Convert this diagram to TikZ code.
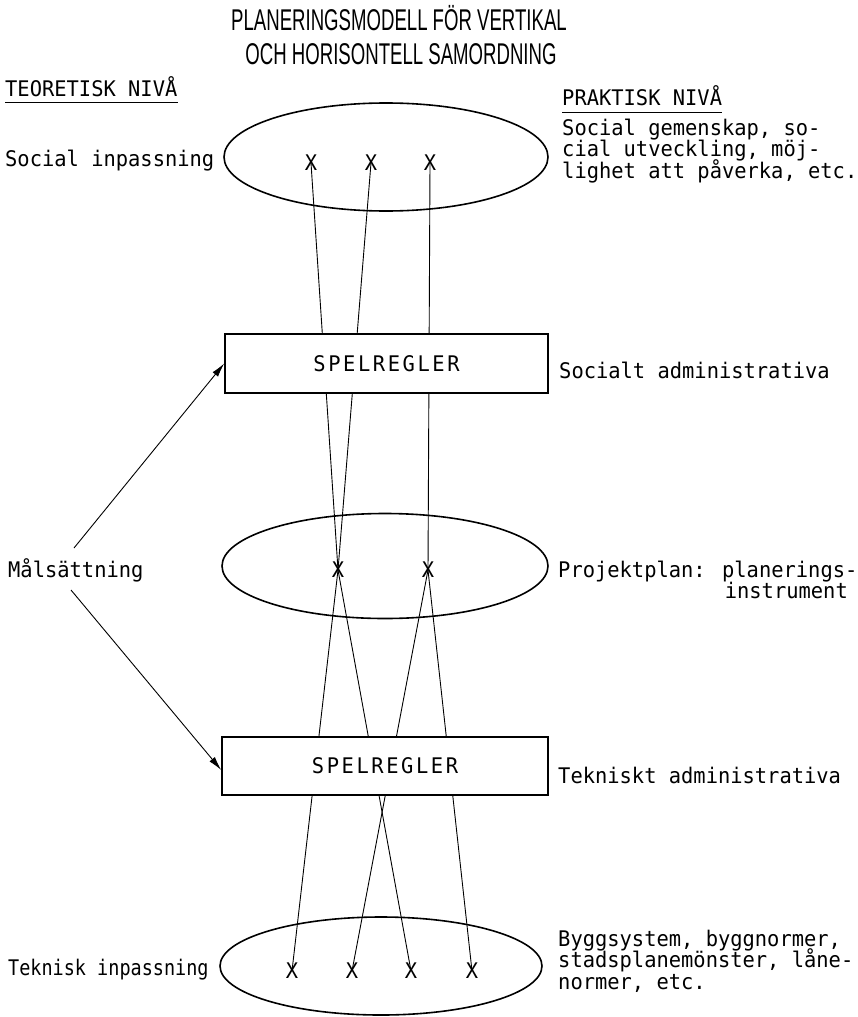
\documentclass[tikz,border=0pt]{standalone}
\usepackage{fontspec}
\usetikzlibrary{shapes.geometric,arrows.meta}
\newfontfamily\tw[FakeStretch=0.95]{DejaVu Sans Mono}
\newfontfamily\twn[FakeStretch=0.86]{DejaVu Sans Mono}
\newfontfamily\twsp[FakeStretch=0.95,LetterSpace=12]{DejaVu Sans Mono}
\newfontfamily\ttl[FakeStretch=0.62]{Liberation Sans}
\begin{document}
\begin{tikzpicture}[x=1pt,y=-1pt,
  txt/.style={anchor=base west,inner sep=0pt,font=\tw\fontsize{21.5}{21.5}\selectfont},
  txte/.style={anchor=base east,inner sep=0pt,font=\tw\fontsize{21.5}{21.5}\selectfont},
  ttlstyle/.style={anchor=base,inner sep=0pt,font=\ttl\fontsize{30}{34}\selectfont},
  xmark/.style={inner sep=0pt,font=\tw\fontsize{21.5}{21.5}\selectfont},
  oval/.style={draw,ellipse,line width=1.6pt,inner sep=0pt},
  board/.style={draw,fill=white,line width=1.6pt,inner sep=0pt,font=\twsp\fontsize{21.5}{21.5}\selectfont},
  conn/.style={line width=0.9pt},
  arr/.style={line width=0.9pt,-{Latex[length=14pt,width=7pt]}}]
\useasboundingbox (0,0) rectangle (857,1017);
% title
\node[ttlstyle] (t1line) at (399,30) {PLANERINGSMODELL FÖR VERTIKAL};
\node[ttlstyle] (t2line) at (401,64) {OCH HORISONTELL SAMORDNING};
% level headings
\node[txt] (teo) at (5,96) {TEORETISK NIVÅ};
\draw[conn] ([yshift=-6pt]teo.base west) -- ([yshift=-6pt]teo.base east);
\node[txt] (prak) at (562,105) {PRAKTISK NIVÅ};
\draw[conn] ([yshift=-7pt]prak.base west) -- ([yshift=-7pt]prak.base east);
% ellipses
\node[oval,minimum width=324pt,minimum height=108pt] (E1) at (386,157) {};
\node[oval,minimum width=326pt,minimum height=105pt] (E2) at (385,566) {};
\node[oval,minimum width=322pt,minimum height=98pt] (E3) at (381,966) {};
% X marks
\node[xmark] (x1) at (311,163) {X};
\node[xmark] (x2) at (371,163) {X};
\node[xmark] (x3) at (430,163) {X};
\node[xmark] (m1) at (338,570) {X};
\node[xmark] (m2) at (428,570) {X};
\node[xmark] (b1) at (292,971) {X};
\node[xmark] (b2) at (352,971) {X};
\node[xmark] (b3) at (411,971) {X};
\node[xmark] (b4) at (472,971) {X};
% connectors
\draw[conn] (x1.center) -- (m1.center);
\draw[conn] (x2.center) -- (m1.center);
\draw[conn] (x3.center) -- (m2.center);
\draw[conn] (m1.center) -- (b1.center);
\draw[conn] (m1.center) -- (b3.center);
\draw[conn] (m2.center) -- (b2.center);
\draw[conn] (m2.center) -- (b4.center);
% boxes
\node[board,minimum width=323pt,minimum height=59pt] (B1) at (386.5,363.5) {SPELREGLER};
\node[board,minimum width=326pt,minimum height=58pt] (B2) at (385,766) {SPELREGLER};
% left labels
\node[txt] (soc) at (5,166) {Social inpassning};
\node[txt] (mal) at (8,577) {Målsättning};
\node[txt,font=\twn\fontsize{21.5}{21.5}\selectfont] (tek) at (8,975) {Teknisk inpassning};
\coordinate (ma1) at (74,548);
\coordinate (ma2) at (71,590);
\draw[arr] (ma1) -- (B1.west);
\draw[arr] (ma2) -- ([yshift=-4pt]B2.west);
% right labels
\node[txt] (r1a) at (562,135) {Social gemenskap, so-};
\node[txt] (r1b) at (562,156.5) {cial utveckling, möj-};
\node[txt] (r1c) at (562,178) {lighet att påverka, etc.};
\node[txt] (r2) at (559,378) {Socialt administrativa};
\node[txt] (r3a) at (558,577) {Projektplan: planerings-};
\node[txte] (r3b) at (848,598.5) {instrument};
\node[txt] (r4) at (558,783) {Tekniskt administrativa};
\node[txt] (r5a) at (558,946) {Byggsystem, byggnormer,};
\node[txt] (r5b) at (558,967.5) {stadsplanemönster, låne-};
\node[txt] (r5c) at (558,989) {normer, etc.};
\end{tikzpicture}
\end{document}
